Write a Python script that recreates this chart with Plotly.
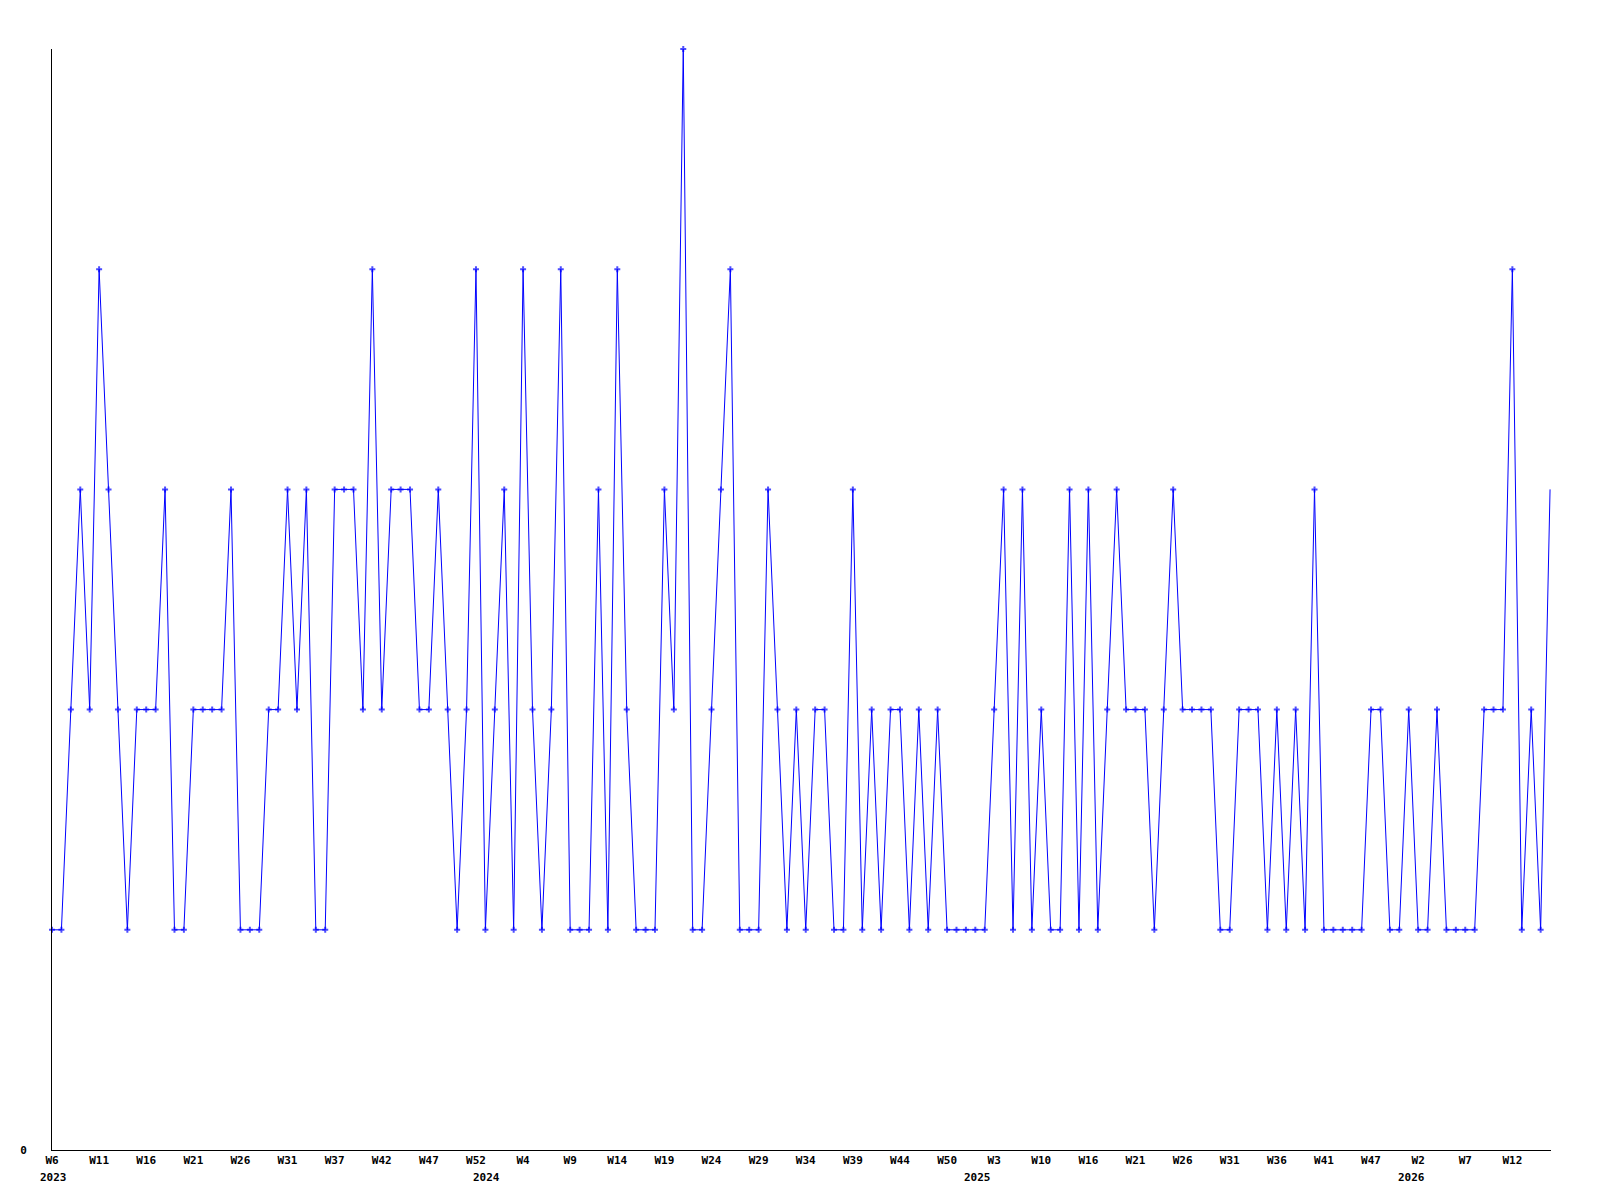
import plotly.graph_objects as go

# Weekly values (one per week, first = 2023 W6)
values = [
    1, 1, 2, 3, 2, 4, 3, 2, 1, 2,
    2, 2, 3, 1, 1, 2, 2, 2, 2, 3,
    1, 1, 1, 2, 2, 3, 2, 3, 1, 1,
    3, 3, 3, 2, 4, 2, 3, 3, 3, 2,
    2, 3, 2, 1, 2, 4, 1, 2, 3, 1,
    4, 2, 1, 2, 4, 1, 1, 1, 3, 1,
    4, 2, 1, 1, 1, 3, 2, 5, 1, 1,
    2, 3, 4, 1, 1, 1, 3, 2, 1, 2,
    1, 2, 2, 1, 1, 3, 1, 2, 1, 2,
    2, 1, 2, 1, 2, 1, 1, 1, 1, 1,
    2, 3, 1, 3, 1, 2, 1, 1, 3, 1,
    3, 1, 2, 3, 2, 2, 2, 1, 2, 3,
    2, 2, 2, 2, 1, 1, 2, 2, 2, 1,
    2, 1, 2, 1, 3, 1, 1, 1, 1, 1,
    2, 2, 1, 1, 2, 1, 1, 2, 1, 1,
    1, 1, 2, 2, 2, 4, 1, 2, 1, 3,
]

# Week tick labels, one every 5 weeks starting at the first week
week_labels = [
    "W6", "W11", "W16", "W21", "W26", "W31", "W37", "W42", "W47", "W52",
    "W4", "W9", "W14", "W19", "W24", "W29", "W34", "W39", "W44", "W50",
    "W3", "W10", "W16", "W21", "W26", "W31", "W36", "W41", "W47",
    "W2", "W7", "W12",
]
week_label_step = 5

# Year labels and the week index under which each appears
year_labels = ["2023", "2024", "2025", "2026"]
year_week_index = [0.2, 46.1, 98.2, 144.3]

n = len(values)
x = list(range(n))
tickvals = [i * week_label_step for i in range(len(week_labels))]

FONT = dict(family="DejaVu Sans Mono", size=11, color="black", weight="bold")

fig = go.Figure()
fig.add_trace(go.Scatter(
    x=x, y=values,
    mode="lines+markers",
    line=dict(color="#0000ff", width=1),
    marker=dict(symbol="cross", size=[5] * (n - 1) + [0], color="#0000ff",
                line=dict(width=0)),
    cliponaxis=False,
    showlegend=False,
    hoverinfo="x+y",
))

for txt, xi in zip(year_labels, year_week_index):
    fig.add_annotation(
        x=xi, y=0, xref="x", yref="y",
        text=txt, showarrow=False,
        xanchor="center", yanchor="top", yshift=-19,
        font=FONT,
    )

fig.update_layout(
    width=1584, height=1184,
    margin=dict(l=42, r=41, t=41, b=42),
    paper_bgcolor="white", plot_bgcolor="white",
    font=FONT,
    xaxis=dict(
        range=[0, n - 1 + 0.1],
        showgrid=False, zeroline=False,
        showline=True, linecolor="black", linewidth=1,
        tickmode="array", tickvals=tickvals, ticktext=week_labels,
        ticks="", tickfont=FONT, tickangle=0,
    ),
    yaxis=dict(
        range=[0, 5],
        showgrid=False, zeroline=False,
        showline=True, linecolor="black", linewidth=1,
        tickmode="array", tickvals=[0], ticktext=["0"],
        ticks="", tickfont=FONT,
        ticklabelstandoff=22,
    ),
)

fig.write_html("out.html")
